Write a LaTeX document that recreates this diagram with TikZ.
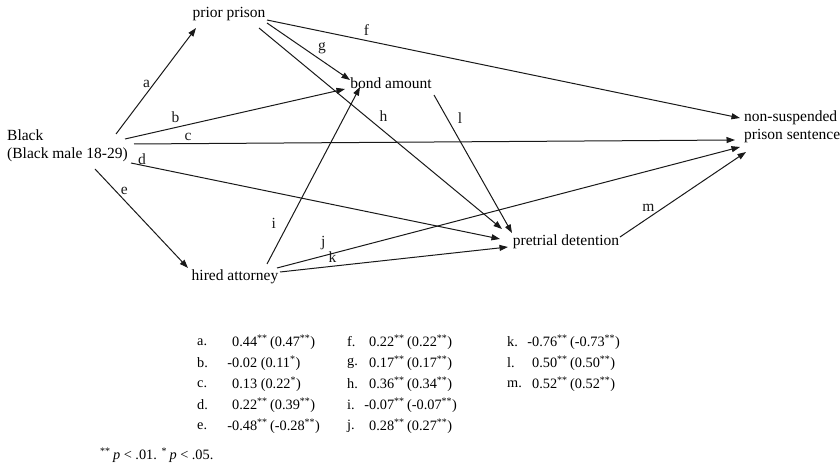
\documentclass[tikz,border=0pt]{standalone}
\usepackage{fontspec}
\setmainfont{Liberation Serif}
\usepackage{tikz}
\usetikzlibrary{arrows.meta,positioning,calc}
\newcommand{\st}[1]{\textsuperscript{#1}}

\begin{document}
\begin{tikzpicture}[x=1pt,y=-1pt,
  var/.style={inner sep=0pt,font=\fontsize{15.5}{18}\selectfont,align=left},
  lbl/.style={inner sep=0pt,font=\fontsize{15.5}{18}\selectfont},
  tab/.style={inner sep=0pt,anchor=west,font=\fontsize{14.3}{16}\selectfont},
  arr/.style={-{Triangle[length=8.5pt,width=6pt]},line width=1pt,black!90}]
  \useasboundingbox (0,0) rectangle (840,470);
  % variables
  \node[var,anchor=west](blk) at (7,146){Black\\(Black male 18-29)};
  \node[var](prior) at (229,14){prior prison};
  \node[var](bond) at (391,83){bond amount};
  \node[var](hired) at (235,277){hired attorney};
  \node[var](pretrial) at (566,242){pretrial detention};
  \node[var,anchor=west](sent) at (744,127){non-suspended\\prison sentence};
  % paths
  \draw[arr]($(blk.west)+(109,-12)$)--($(prior)+(-33,14)$) node[lbl,pos=.47,left=3pt]{a};
  \draw[arr]($(blk.west)+(118,-7)$)--($(bond)+(-46,6)$) node[lbl,pos=.23,above=4pt]{b};
  \draw[arr]($(blk.west)+(127,-2)$)--($(sent.west)+(-9,13)$) node[lbl,pos=.09,above=2pt]{c};
  \draw[arr]($(blk.west)+(124,17)$)--($(pretrial)+(-66,-3)$) node[lbl,pos=.03,above=0pt]{d};
  \draw[arr]($(blk.west)+(88,23)$)--($(hired)+(-47,-9)$) node[lbl,pos=.22,right=5pt]{e};
  \draw[arr]($(prior)+(38,6)$)--($(sent.west)+(-4,-9)$) node[lbl,pos=.21,above=5pt]{f};
  \draw[arr]($(prior)+(38,9)$)--($(bond)+(-41,-3)$) node[lbl,pos=.55,above right=0pt and 5pt]{g};
  \draw[arr]($(prior)+(30,14)$)--($(pretrial)+(-64,-13)$) node[lbl,pos=.47,above right=0pt and 6pt]{h};
  \draw[arr]($(hired)+(32,-13)$)--($(bond)+(-31,4)$) node[lbl,pos=.23,left=12pt]{i};
  \draw[arr]($(hired)+(42,-9)$)--($(sent.west)+(-4,20)$) node[lbl,pos=.1,above=6pt]{j};
  \draw[arr]($(hired)+(45,-5)$)--($(pretrial)+(-58,5)$) node[lbl,pos=.23,above=3pt]{k};
  \draw[arr]($(bond)+(43,12)$)--($(pretrial)+(-54,-9)$) node[lbl,pos=.17,right=10pt]{l};
  \draw[arr]($(pretrial)+(54,-5)$)--($(sent.west)+(2,25)$) node[lbl,pos=.34,left=8pt]{m};
  % coefficients
  \foreach \l/\v [count=\r] in {a./{0.44\st{**}\,(0.47\st{**})},b./{\llap{-}0.02 (0.11\st{*})},
    c./{0.13 (0.22\st{*})},d./{0.22\st{**}\,(0.39\st{**})},e./{\llap{-}0.48\st{**}\,(-0.28\st{**})}}{
    \node[tab](la\r) at (197,321+21*\r){\l};
    \node[tab](va\r) at (232,321+21*\r){\v};
  }
  \foreach \l/\v [count=\r] in {f./{0.22\st{**}\,(0.22\st{**})},g./{0.17\st{**}\,(0.17\st{**})},
    h./{0.36\st{**}\,(0.34\st{**})},i./{\llap{-}0.07\st{**}\,(-0.07\st{**})},j./{0.28\st{**}\,(0.27\st{**})}}{
    \node[tab](lb\r) at (347,321+21*\r){\l};
    \node[tab](vb\r) at (369,321+21*\r){\v};
  }
  \foreach \l/\v [count=\r] in {k./{\llap{-}0.76\st{**}\,(-0.73\st{**})},l./{0.50\st{**}\,(0.50\st{**})},
    m./{0.52\st{**}\,(0.52\st{**})}}{
    \node[tab](lc\r) at (507,321+21*\r){\l};
    \node[tab](vc\r) at (532,321+21*\r){\v};
  }
  \node[tab](note) at (100,455){\st{**}\,\textit{p} < .01. \st{*}\,\textit{p} < .05.};
\end{tikzpicture}
\end{document}
